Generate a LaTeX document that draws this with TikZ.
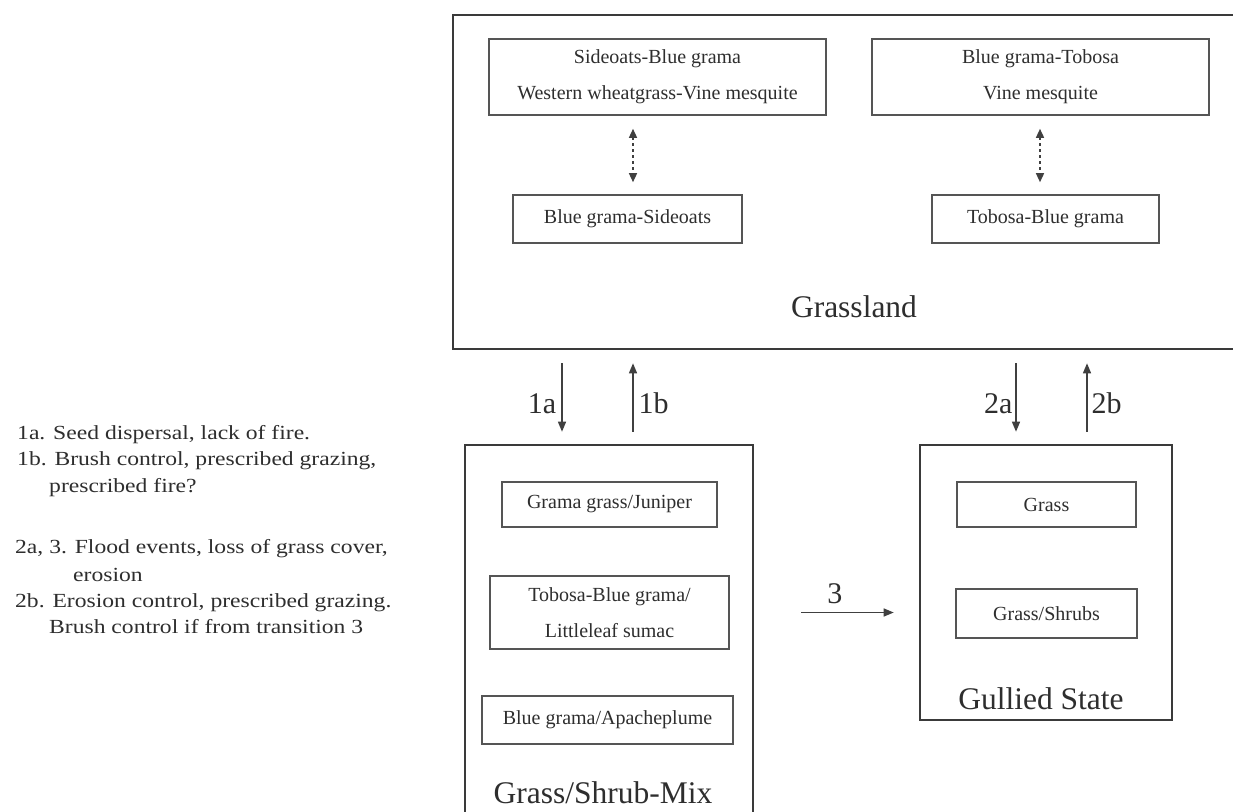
\documentclass[tikz,border=0pt]{standalone}
\usepackage{fontspec}
\setmainfont{Liberation Serif}
\newfontfamily\legfont[FakeStretch=1.18]{Liberation Serif}
\usetikzlibrary{arrows.meta}
\definecolor{txt}{HTML}{2E2E2E}
\definecolor{boxdark}{HTML}{3A3A3A}
\definecolor{boxgray}{HTML}{555555}
\definecolor{linegray}{HTML}{404040}
\tikzset{
  outerbox/.style={draw=boxdark, line width=2.6pt, inner sep=0pt},
  subbox/.style={draw=boxgray, line width=1.6pt, inner sep=0pt, align=center,
    text=txt, font=\fontsize{20}{36}\selectfont},
  biglabel/.style={font=\fontsize{31.5}{36}\selectfont, text=txt, inner sep=0pt, anchor=base},
  arrlabel/.style={font=\fontsize{30}{30}\selectfont, text=txt, inner sep=0pt},
  legline/.style={font=\legfont\fontsize{20}{26}\selectfont, text=txt, inner sep=0pt, anchor=base west},
  arr/.style={draw=linegray, line width=1.4pt, -{Triangle[length=10pt,width=8pt]}},
  dotarr/.style={draw=linegray, line width=1.4pt, dash pattern=on 3pt off 3pt,
    {Triangle[length=9pt,width=8pt]}-{Triangle[length=9pt,width=8pt]}}
}
\begin{document}
\begin{tikzpicture}[x=1pt,y=-1pt]
\useasboundingbox (0,0) rectangle (1233,811);
\fill[white] (0,0) rectangle (1233,811);

% Grassland state
\node[outerbox, minimum width=790pt, minimum height=334pt] (grass) at (848,182) {};
\node[subbox, minimum width=337pt, minimum height=76pt] (s1) at (657.5,77)
  {Sideoats-Blue grama\\Western wheatgrass-Vine mesquite};
\node[subbox, minimum width=337pt, minimum height=76pt] (s2) at (1040.5,77)
  {Blue grama-Tobosa\\Vine mesquite};
\node[subbox, minimum width=229pt, minimum height=48pt] (s3) at (627.5,219) {Blue grama-Sideoats};
\node[subbox, minimum width=227pt, minimum height=48pt] (s4) at (1045.5,219) {Tobosa-Blue grama};
\node[biglabel] (grasslbl) at (854,317) {Grassland};

\draw[dotarr, shorten <=13pt, shorten >=12pt] ([xshift=5.5pt]s3.north |- s1.south) -- ([xshift=5.5pt]s3.north);
\draw[dotarr, shorten <=13pt, shorten >=12pt] ([xshift=-0.5pt]s2.south) -- ([xshift=-0.5pt]s2.south |- s4.north);

% Grass/Shrub-Mix state
\node[outerbox, minimum width=288pt, minimum height=400pt] (mix) at (609,645) {};
\node[subbox, minimum width=215pt, minimum height=45pt] (mj) at (609.5,504.5) {Grama grass/Juniper};
\node[subbox, minimum width=239pt, minimum height=73pt] (mt) at (609.5,612.5)
  {Tobosa-Blue grama/\\Littleleaf sumac};
\node[subbox, minimum width=251pt, minimum height=48pt] (ma) at (607.5,720) {Blue grama/Apacheplume};
\node[biglabel] (mixlbl) at (603,803) {Grass/Shrub-Mix};

% Gullied state
\node[outerbox, minimum width=252pt, minimum height=275pt] (gully) at (1046,582.5) {};
\node[subbox, minimum width=179pt, minimum height=45pt] (gg) at (1046.5,504.5) {Grass};
\node[subbox, minimum width=181pt, minimum height=49pt] (gs) at (1046.5,613.5) {Grass/Shrubs};
\node[biglabel] (gullylbl) at (1041,709) {Gullied State};

% Transitions
\draw[arr, shorten <=13pt, shorten >=12pt] ([xshift=-47pt]mix.north |- grass.south) -- ([xshift=-47pt]mix.north)
  node[arrlabel, midway, anchor=base east, xshift=-5pt, yshift=-16pt] (l1a) {1a};
\draw[arr, shorten <=12pt, shorten >=13pt] ([xshift=24pt]mix.north) -- ([xshift=24pt]mix.north |- grass.south)
  node[arrlabel, midway, anchor=base west, xshift=5pt, yshift=-16pt] (l1b) {1b};
\draw[arr, shorten <=13pt, shorten >=12pt] ([xshift=-30pt]gully.north |- grass.south) -- ([xshift=-30pt]gully.north)
  node[arrlabel, midway, anchor=base east, xshift=-3pt, yshift=-16pt] (l2a) {2a};
\draw[arr, shorten <=12pt, shorten >=13pt] ([xshift=41pt]gully.north) -- ([xshift=41pt]gully.north |- grass.south)
  node[arrlabel, midway, anchor=base west, xshift=4pt, yshift=-16pt] (l2b) {2b};
\draw[arr, shorten <=47pt, shorten >=25pt] (mix.east |- mt.east) -- (gully.west |- mt.east)
  node[arrlabel, pos=0.49, anchor=base, yshift=9.5pt] (l3) {3};

% Legend
\node[legline] (g1) at (17,439) {1a. Seed dispersal, lack of fire.};
\node[legline] (g2) at (17,465) {1b. Brush control, prescribed grazing,};
\node[legline] (g3) at (49,492) {prescribed fire?};
\node[legline] (g4) at (15,553) {2a, 3. Flood events, loss of grass cover,};
\node[legline] (g5) at (73,581) {erosion};
\node[legline] (g6) at (15,607) {2b. Erosion control, prescribed grazing.};
\node[legline] (g7) at (49,633) {Brush control if from transition 3};
\end{tikzpicture}
\end{document}
